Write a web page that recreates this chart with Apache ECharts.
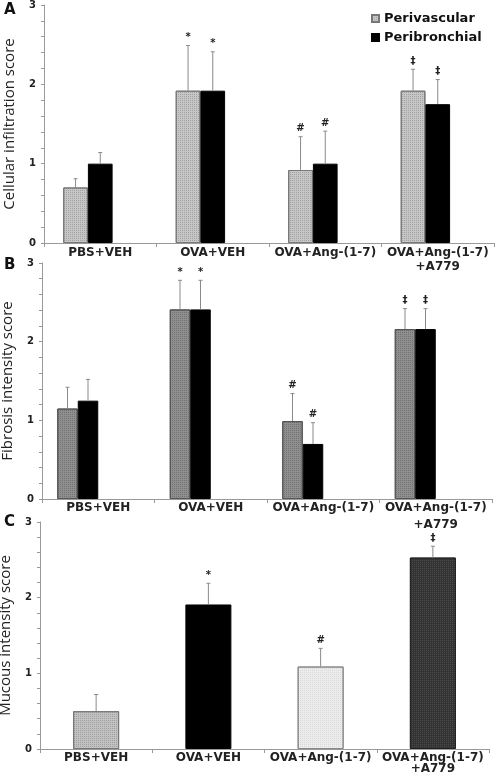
<!DOCTYPE html>
<html>
<head>
<meta charset="utf-8">
<script src="https://cdn.jsdelivr.net/npm/echarts@6/dist/echarts.min.js"></script>
<style>html,body{margin:0;padding:0;background:#fff}#c{width:502px;height:780px}</style>
</head>
<body>
<div id="c"></div>
<script>
const categories = ['PBS+VEH', 'OVA+VEH', 'OVA+Ang-(1-7)', 'OVA+Ang-(1-7)\n+A779'];
const yTicks = [0, 1, 2, 3];

// Panel A: cellular infiltration score
const aPerivascular = [0.70, 1.92, 0.92, 1.92];
const aPerivascularErr = [0.11, 0.57, 0.42, 0.27];
const aPeribronchial = [1.00, 1.92, 1.00, 1.75];
const aPeribronchialErr = [0.14, 0.49, 0.41, 0.31];
const aMarks = ['', '*', '#', '‡'];

// Panel B: fibrosis intensity score
const bPerivascular = [1.15, 2.41, 0.99, 2.16];
const bPerivascularErr = [0.27, 0.37, 0.35, 0.26];
const bPeribronchial = [1.25, 2.41, 0.70, 2.16];
const bPeribronchialErr = [0.27, 0.37, 0.27, 0.26];
const bMarks = ['', '*', '#', '‡'];

// Panel C: mucous intensity score
const cValues = [0.50, 1.91, 1.09, 2.53];
const cErr = [0.22, 0.28, 0.24, 0.15];
const cMarks = ['', '*', '#', '‡'];

const FONT = 'DejaVu Sans';
const grids = [
  {left: 44, top: 5, width: 450, height: 238, outerBoundsMode: 'none', containLabel: false},
  {left: 42, top: 263, width: 450, height: 236, outerBoundsMode: 'none', containLabel: false},
  {left: 40, top: 522, width: 449, height: 227, outerBoundsMode: 'none', containLabel: false}
];
const yNames = ['Cellular infiltration score', 'Fibrosis intensity score', 'Mucous intensity score'];
const labelLineHeights = [14, 17, 11];
const labelMargins = [3, 0, 3];

const xAxes = grids.map((g, i) => ({
  type: 'category', gridIndex: i, data: categories,
  axisLine: {lineStyle: {color: '#999', width: 1}},
  axisTick: {show: true, length: 4, lineStyle: {color: '#999'}},
  axisLabel: {interval: 0, color: '#222', fontFamily: FONT, fontWeight: 'bold', fontSize: 12,
    lineHeight: labelLineHeights[i], margin: labelMargins[i]}
}));
const yAxes = grids.map((g, i) => ({
  type: 'value', gridIndex: i, min: yTicks[0], max: yTicks[yTicks.length - 1], interval: 1,
  name: yNames[i], nameLocation: 'middle', nameGap: 27, nameRotate: 90,
  nameTextStyle: {fontFamily: 'Open Sans', fontSize: 15, color: '#222'},
  axisLine: {show: true, lineStyle: {color: '#999', width: 1}},
  axisTick: {show: true, length: 3, lineStyle: {color: '#999'}},
  minorTick: {show: true, splitNumber: 5, length: 3, lineStyle: {color: '#999'}},
  splitLine: {show: false},
  axisLabel: {color: '#222', fontFamily: FONT, fontWeight: 'bold', fontSize: 10, margin: 8}
}));

function decal(col) {
  return {symbol: 'rect', symbolSize: 1, dashArrayX: [1, 1], dashArrayY: [1, 1], color: col};
}

function errSeries(gi, values, errs, marks, offset) {
  return {
    type: 'custom', xAxisIndex: gi, yAxisIndex: gi, z: 5,
    data: values.map((v, i) => [i, v, errs[i]]),
    renderItem: function (params, api) {
      const base = api.coord([api.value(0), api.value(1)]);
      const top = api.coord([api.value(0), api.value(1) + api.value(2)]);
      const cx = base[0] + offset;
      const mark = marks[params.dataIndex];
      const ch = [
        {type: 'line', shape: {x1: cx, y1: base[1], x2: cx, y2: top[1]}, style: {stroke: '#8a8a8a', lineWidth: 1}},
        {type: 'line', shape: {x1: cx - 2, y1: top[1], x2: cx + 2, y2: top[1]}, style: {stroke: '#8a8a8a', lineWidth: 1}}
      ];
      if (mark) {
        ch.push({type: 'text', style: {text: mark, x: cx, y: top[1] - 3, align: 'center', verticalAlign: 'bottom',
          font: 'bold 10px "DejaVu Sans"', fill: '#222'}});
      }
      return {type: 'group', children: ch};
    }
  };
}

const wA = 24.7, wB = 20.5, wC = 46;
const series = [
  {name: 'Perivascular', type: 'bar', xAxisIndex: 0, yAxisIndex: 0, barWidth: wA, barGap: 0, data: aPerivascular,
   itemStyle: {color: '#c6c6c6', borderColor: '#777', borderWidth: 1, decal: decal('rgba(0,0,0,0.18)')}},
  {name: 'Peribronchial', type: 'bar', xAxisIndex: 0, yAxisIndex: 0, barWidth: wA, barGap: 0, data: aPeribronchial,
   itemStyle: {color: '#000', borderColor: '#000', borderWidth: 1}},
  {name: 'spacerA', type: 'bar', xAxisIndex: 0, yAxisIndex: 0, barWidth: wA, barGap: 0, data: ['-', '-', '-', '-']},
  errSeries(0, aPerivascular, aPerivascularErr, aMarks, -wA),
  errSeries(0, aPeribronchial, aPeribronchialErr, aMarks, 0),

  {name: 'Perivascular', type: 'bar', xAxisIndex: 1, yAxisIndex: 1, barWidth: wB, barGap: 0, data: bPerivascular,
   itemStyle: {color: '#8f8f8f', borderColor: '#555', borderWidth: 1, decal: decal('rgba(0,0,0,0.2)')}},
  {name: 'Peribronchial', type: 'bar', xAxisIndex: 1, yAxisIndex: 1, barWidth: wB, barGap: 0, data: bPeribronchial,
   itemStyle: {color: '#000', borderColor: '#000', borderWidth: 1}},
  {name: 'spacerB1', type: 'bar', xAxisIndex: 1, yAxisIndex: 1, barWidth: wB, barGap: 0, data: ['-', '-', '-', '-']},
  {name: 'spacerB2', type: 'bar', xAxisIndex: 1, yAxisIndex: 1, barWidth: wB, barGap: 0, data: ['-', '-', '-', '-']},
  errSeries(1, bPerivascular, bPerivascularErr, bMarks, -1.5 * wB),
  errSeries(1, bPeribronchial, bPeribronchialErr, bMarks, -0.5 * wB),

  {name: 'Mucous', type: 'bar', xAxisIndex: 2, yAxisIndex: 2, barWidth: wC,
   data: cValues.map((v, i) => ({value: v, itemStyle: [
     {color: '#c2c2c2', borderColor: '#777', borderWidth: 1, decal: decal('rgba(0,0,0,0.18)')},
     {color: '#000', borderColor: '#000', borderWidth: 1},
     {color: '#ececec', borderColor: '#888', borderWidth: 1, decal: decal('rgba(0,0,0,0.08)')},
     {color: '#333', borderColor: '#222', borderWidth: 1, decal: decal('rgba(255,255,255,0.12)')}
   ][i]}))},
  errSeries(2, cValues, cErr, cMarks, 0)
];

const chart = echarts.init(document.getElementById('c'), null, {renderer: 'canvas'});
chart.setOption({
  animation: false,
  backgroundColor: '#fff',
  grid: grids,
  xAxis: xAxes,
  yAxis: yAxes,
  legend: {
    data: ['Perivascular', 'Peribronchial'], orient: 'vertical', left: 366, top: 7,
    itemWidth: 7, itemHeight: 7, itemGap: 6, icon: 'rect',
    textStyle: {fontFamily: FONT, fontWeight: 'bold', fontSize: 13, color: '#111'}
  },
  graphic: [
    {type: 'text', left: 4, top: 3, style: {text: 'A', font: 'bold 15px "DejaVu Sans"', fill: '#111'}},
    {type: 'text', left: 4, top: 258, style: {text: 'B', font: 'bold 15px "DejaVu Sans"', fill: '#111'}},
    {type: 'text', left: 4, top: 515, style: {text: 'C', font: 'bold 15px "DejaVu Sans"', fill: '#111'}}
  ],
  series: series
});
</script>
</body>
</html>
